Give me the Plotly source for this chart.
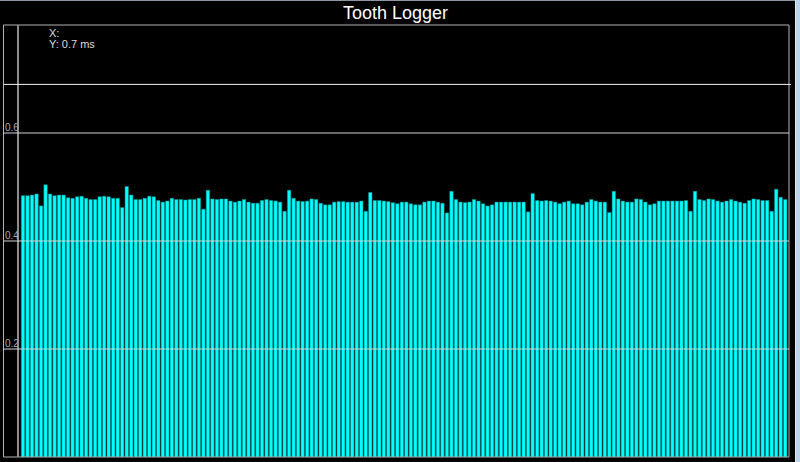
import plotly.graph_objects as go

# ---- data ----
teeth = list(range(170))
times_ms = [
    0.484, 0.484, 0.485, 0.487, 0.465, 0.504, 0.487, 0.484, 0.485, 0.485,
    0.480, 0.479, 0.482, 0.483, 0.479, 0.477, 0.477, 0.482, 0.483, 0.482,
    0.479, 0.479, 0.462, 0.501, 0.485, 0.477, 0.477, 0.479, 0.483, 0.482,
    0.475, 0.472, 0.474, 0.479, 0.477, 0.477, 0.476, 0.477, 0.477, 0.479,
    0.459, 0.494, 0.478, 0.477, 0.478, 0.478, 0.474, 0.472, 0.474, 0.477,
    0.472, 0.470, 0.470, 0.475, 0.477, 0.475, 0.474, 0.472, 0.455, 0.494,
    0.479, 0.474, 0.473, 0.474, 0.478, 0.477, 0.470, 0.467, 0.467, 0.472,
    0.473, 0.473, 0.472, 0.472, 0.472, 0.474, 0.455, 0.490, 0.475, 0.475,
    0.474, 0.473, 0.471, 0.469, 0.472, 0.472, 0.469, 0.467, 0.467, 0.472,
    0.474, 0.474, 0.472, 0.470, 0.452, 0.492, 0.477, 0.472, 0.471, 0.472,
    0.477, 0.474, 0.469, 0.465, 0.467, 0.472, 0.472, 0.472, 0.472, 0.472,
    0.472, 0.472, 0.454, 0.488, 0.475, 0.474, 0.475, 0.474, 0.472, 0.469,
    0.472, 0.474, 0.469, 0.469, 0.467, 0.472, 0.477, 0.474, 0.472, 0.472,
    0.453, 0.492, 0.478, 0.474, 0.472, 0.472, 0.478, 0.477, 0.472, 0.467,
    0.469, 0.474, 0.474, 0.474, 0.474, 0.474, 0.474, 0.475, 0.455, 0.492,
    0.477, 0.475, 0.478, 0.477, 0.474, 0.472, 0.474, 0.477, 0.474, 0.472,
    0.470, 0.475, 0.478, 0.477, 0.475, 0.475, 0.455, 0.496, 0.481, 0.477,
]
grid_vals = [0.2, 0.4, 0.6]
grid_labels = ["0.2", "0.4", "0.6"]
cursor_y = 0.69
cursor_text_x = "X:"
cursor_text_y = "Y: 0.7 ms"
title_text = "Tooth Logger"

# ---- layout geometry (pixels) ----
W, H = 800, 462
L, R, T, B = 18, 11, 25, 5
PW, PH = W - L - R, H - T - B


def px(xpix):
    return (xpix - L) / PW


def py(ypix):
    return (H - B - ypix) / PH


fig = go.Figure()
fig.add_trace(go.Bar(
    x=teeth, y=times_ms,
    marker=dict(color="#00ffff", line=dict(color="#008a8a", width=0.5)),
    hoverinfo="skip",
))

shapes = []
# outer frame
shapes.append(dict(type="rect", xref="paper", yref="paper",
                   x0=px(3.5), x1=1, y0=0, y1=1,
                   line=dict(color="#b4b4b4", width=1), layer="above"))
# y axis line
shapes.append(dict(type="line", xref="paper", yref="paper",
                   x0=0, x1=0, y0=0, y1=1,
                   line=dict(color="#8c8c8c", width=2), layer="above"))
# grid lines (above bars)
for v in grid_vals:
    shapes.append(dict(type="line", xref="paper", yref="y",
                       x0=px(3.5), x1=1, y0=v, y1=v,
                       line=dict(color="#d4d4d4", width=1), layer="above"))
# cursor line
shapes.append(dict(type="line", xref="paper", yref="y",
                   x0=px(3.5), x1=px(791), y0=cursor_y, y1=cursor_y,
                   line=dict(color="#f4f4f4", width=1), layer="above"))
# window chrome on the right and top
shapes.append(dict(type="rect", xref="paper", yref="paper",
                   x0=px(795.5), x1=px(801), y0=py(463), y1=py(-1),
                   fillcolor="#bcd3ea", line=dict(color="#dfe7ef", width=1),
                   layer="above"))
shapes.append(dict(type="line", xref="paper", yref="paper",
                   x0=px(0), x1=px(795), y0=py(0.5), y1=py(0.5),
                   line=dict(color="#8a96a4", width=1), layer="above"))

annotations = []
for v, t in zip(grid_vals, grid_labels):
    annotations.append(dict(xref="paper", yref="y", x=px(4), y=v,
                            text=t, showarrow=False, xanchor="left",
                            yanchor="bottom", yshift=-1, borderpad=0,
                            font=dict(family="Liberation Sans", size=10,
                                      color="#a8a8a8")))
annotations.append(dict(xref="paper", yref="paper", x=px(395), y=py(13),
                        text=title_text, showarrow=False, xanchor="center",
                        yanchor="middle", borderpad=0,
                        font=dict(family="Liberation Sans", size=18,
                                  color="#ffffff")))
annotations.append(dict(xref="paper", yref="paper", x=px(48), y=py(26),
                        text=cursor_text_x, showarrow=False, xanchor="left",
                        yanchor="top", borderpad=0,
                        font=dict(family="Liberation Sans", size=11,
                                  color="#dcdcdc")))
annotations.append(dict(xref="paper", yref="paper", x=px(48), y=py(37),
                        text=cursor_text_y, showarrow=False, xanchor="left",
                        yanchor="top", borderpad=0,
                        font=dict(family="Liberation Sans", size=11,
                                  color="#dcdcdc")))

fig.update_layout(
    width=W, height=H,
    margin=dict(l=L, r=R, t=T, b=B, pad=0, autoexpand=False),
    paper_bgcolor="#000000", plot_bgcolor="#000000",
    showlegend=False, bargap=0.24,
    xaxis=dict(range=[-1.11, 169.84], showgrid=False, zeroline=False,
               showticklabels=False, ticks="", showline=False,
               fixedrange=True),
    yaxis=dict(range=[0, 0.8], showgrid=False, zeroline=False,
               showticklabels=False, ticks="", showline=False,
               automargin=False, fixedrange=True),
    shapes=shapes, annotations=annotations,
)

fig.write_html(
    "out.html",
    config={"displayModeBar": False},
    post_script="document.body.style.margin='0';"
                "document.body.style.overflow='hidden';"
                "document.body.style.background='#000';",
)
